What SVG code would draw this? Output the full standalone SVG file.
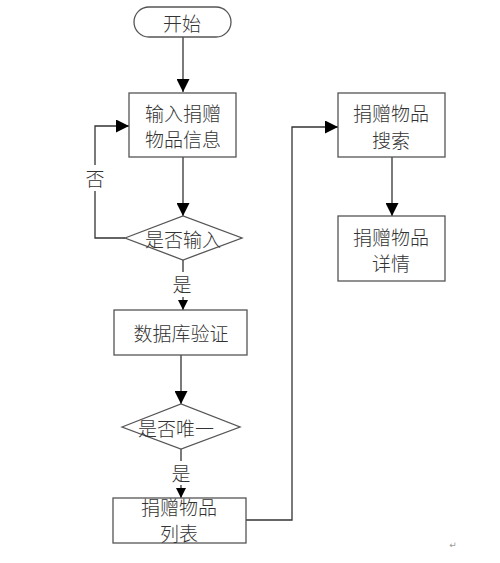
<svg xmlns="http://www.w3.org/2000/svg" width="500" height="563" viewBox="0 0 500 563">
<style>
.n{fill:#fff;stroke:#555;stroke-width:1.3}
.t{font-family:"Noto Sans CJK SC","Noto Sans CJK JP",sans-serif;font-size:19px;font-weight:300;fill:#333;text-anchor:middle;dominant-baseline:central}
.c{fill:none;stroke:#333;stroke-width:1.3}
</style>
<defs>
<marker id="a" viewBox="0 0 10 10" refX="10" refY="5" markerWidth="10" markerHeight="10" markerUnits="userSpaceOnUse" orient="auto">
<path d="M0,0L10,5L0,10z" fill="#000"/>
</marker>
<marker id="b" viewBox="0 0 10 10" refX="10" refY="5" markerWidth="13" markerHeight="13" markerUnits="userSpaceOnUse" orient="auto">
<path d="M0,0L10,5L0,10z" fill="#000"/>
</marker>
</defs>
<rect width="500" height="563" fill="#fff"/>
<g id="connectors">
<path class="c" d="M183,37V92" marker-end="url(#b)"/>
<path class="c" d="M183,157V216" marker-end="url(#b)"/>
<path class="c" d="M125,238H95V191M95,165V126H129" marker-end="url(#b)"/>
<path class="c" d="M183,260V272"/>
<path class="c" d="M183,297V310" marker-end="url(#a)"/>
<path class="c" d="M181,355V404" marker-end="url(#b)"/>
<path class="c" d="M181,449V461"/>
<path class="c" d="M181,485V498" marker-end="url(#a)"/>
<path class="c" d="M246,520H292V127H338" marker-end="url(#b)"/>
<path class="c" d="M392,157V216" marker-end="url(#b)"/>
</g>
<g id="labels">
<text class="t" x="95" y="177">否</text>
<text class="t" x="182" y="283">是</text>
<text class="t" x="181" y="472">是</text>
</g>
<g id="start"><rect class="n" x="134" y="7" width="97" height="30" rx="15"/><text class="t" x="182" y="22">开始</text></g>
<g id="input"><rect class="n" x="129" y="93" width="107" height="64"/><text class="t" x="183" y="112">输入捐赠</text><text class="t" x="183" y="138">物品信息</text></g>
<g id="check-input"><path class="n" d="M125,238L183,216L242,238L183,260z"/><text class="t" x="183" y="238">是否输入</text></g>
<g id="db"><rect class="n" x="114" y="310" width="133" height="45"/><text class="t" x="181" y="332">数据库验证</text></g>
<g id="check-unique"><path class="n" d="M122,427L181,404L240,427L181,449z"/><text class="t" x="176" y="427">是否唯一</text></g>
<g id="list"><rect class="n" x="113" y="498" width="133" height="45"/><text class="t" x="179" y="506">捐赠物品</text><text class="t" x="179" y="532">列表</text></g>
<g id="search"><rect class="n" x="338" y="93" width="107" height="64"/><text class="t" x="391" y="112">捐赠物品</text><text class="t" x="391" y="139">搜索</text></g>
<g id="detail"><rect class="n" x="338" y="216" width="107" height="65"/><text class="t" x="391" y="236">捐赠物品</text><text class="t" x="391" y="262">详情</text></g>
<text x="453" y="548" font-family="'DejaVu Sans',sans-serif" font-size="9" fill="#999" text-anchor="middle">↵</text>
</svg>
